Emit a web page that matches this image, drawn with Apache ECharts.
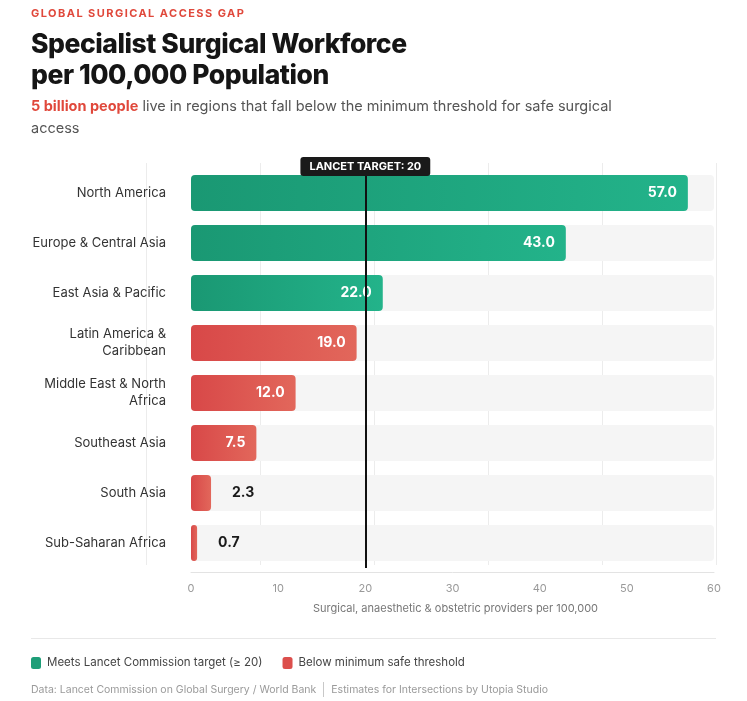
<!DOCTYPE html>
<html>
<head>
<meta charset="utf-8">
<title>Specialist Surgical Workforce</title>
<script src="https://cdn.jsdelivr.net/npm/echarts@6/dist/echarts.min.js"></script>
<style>
  body { margin: 0; background: #fff; font-family: Inter, "Noto Sans", sans-serif; }
  #wrap { position: relative; width: 747px; height: 701px; overflow: hidden; }
  #main { position: absolute; left: 0; top: 0; width: 747px; height: 701px; }
  .kicker { position: absolute; left: 31px; top: 6px; font-size: 11px; font-weight: 700; letter-spacing: 1.45px; color: #e0483b; }
  h1 { position: absolute; left: 31px; top: 28px; margin: 0; font-size: 26.5px; line-height: 31px; font-weight: 800; color: #151515; letter-spacing: -0.45px; }
  .sub { position: absolute; left: 31px; top: 95px; width: 620px; margin: 0; font-size: 14.5px; line-height: 22px; color: #555; }
  .sub b { color: #e0483b; font-weight: 700; }
  .rule { position: absolute; left: 31px; top: 638px; width: 685px; height: 1px; background: #e8e8e8; }
  .foot { position: absolute; left: 31px; top: 682px; font-size: 10.5px; color: #9a9a9a; display: flex; align-items: center; }
  .foot .sep { display: inline-block; width: 1px; height: 15px; background: #c8c8c8; margin: 0 7px; }
</style>
</head>
<body>
<div id="wrap">
  <div id="main"></div>
  <div class="kicker">GLOBAL SURGICAL ACCESS GAP</div>
  <h1>Specialist Surgical Workforce<br>per 100,000 Population</h1>
  <p class="sub"><b>5 billion people</b> live in regions that fall below the minimum threshold for safe surgical access</p>
  <div class="rule"></div>
  <div class="foot"><span>Data: Lancet Commission on Global Surgery / World Bank</span><span class="sep"></span><span>Estimates for Intersections by Utopia Studio</span></div>
</div>

<script type="text/javascript">
    // data
    var regions = ['North America', 'Europe & Central Asia', 'East Asia & Pacific', 'Latin America & Caribbean',
                   'Middle East & North Africa', 'Southeast Asia', 'South Asia', 'Sub-Saharan Africa'];
    var workforce = [57.0, 43.0, 22.0, 19.0, 12.0, 7.5, 2.3, 0.7];
    var lancetTarget = 20;
    var xMin = 0, xMax = 60, xStep = 10;
    var legendNames = ['Meets Lancet Commission target (\u2265 20)', 'Below minimum safe threshold'];

    var green = new echarts.graphic.LinearGradient(0, 0, 1, 0, [
        {offset: 0, color: '#1a9873'}, {offset: 1, color: '#23b38a'}]);
    var red = new echarts.graphic.LinearGradient(0, 0, 1, 0, [
        {offset: 0, color: '#d84848'}, {offset: 1, color: '#e2675b'}]);

    var barData = [];
    for (var i = 0; i < workforce.length; i++) {
        var v = workforce[i];
        barData.push({
            value: v,
            itemStyle: {color: v >= lancetTarget ? green : red},
            label: v >= 5 ?
                {position: 'insideRight', distance: 11, color: '#fff'} :
                {position: 'right', distance: 21, color: '#1a1a1a'}
        });
    }

    // long region names go on two lines, broken at the last space that fits
    function wrapName(s) {
        if (s.length <= 22) return s;
        var cut = s.lastIndexOf(' ', 22);
        return s.slice(0, cut) + '\n' + s.slice(cut + 1);
    }

    var myChart = echarts.init(document.getElementById('main'));
    myChart.setOption({
        animation: false,
        textStyle: {fontFamily: 'Inter, "Noto Sans", sans-serif'},
        grid: [
            {left: 191, right: 33, top: 168, height: 400},
            // grid for the light vertical guide lines
            {left: 146, right: 31, top: 163, height: 402}
        ],
        xAxis: [
            {
                gridIndex: 0, type: 'value', min: xMin, max: xMax, interval: xStep,
                offset: 4,
                axisLine: {show: true, lineStyle: {color: '#e3e3e3'}},
                axisTick: {show: false},
                splitLine: {show: false},
                axisLabel: {color: '#999', fontSize: 11, margin: 11},
                name: 'Surgical, anaesthetic & obstetric providers per 100,000',
                nameLocation: 'middle', nameGap: 31,
                nameTextStyle: {color: '#777', fontSize: 11, padding: [0, 0, 0, 6]}
            },
            {
                gridIndex: 1, type: 'value', min: 0, max: 5, interval: 1,
                axisLine: {show: false}, axisTick: {show: false}, axisLabel: {show: false},
                splitLine: {show: true, lineStyle: {color: '#ececec'}}
            }
        ],
        yAxis: [
            {
                gridIndex: 0, type: 'category', data: regions, inverse: true,
                axisLine: {show: false}, axisTick: {show: false},
                axisLabel: {
                    color: '#333', fontSize: 13, lineHeight: 17, margin: 25,
                    align: 'right', formatter: wrapName
                }
            },
            {gridIndex: 1, type: 'value', min: 0, max: 1, show: false}
        ],
        legend: {
            data: legendNames, left: 26, top: 652,
            icon: 'roundRect', itemWidth: 10, itemHeight: 12, itemGap: 20,
            textStyle: {color: '#444', fontSize: 11.5, padding: [0, 0, 0, 1]},
            selectedMode: false
        },
        series: [
            {
                type: 'bar', xAxisIndex: 0, yAxisIndex: 0,
                data: barData, barWidth: 36,
                showBackground: true,
                backgroundStyle: {color: '#f5f5f5', borderRadius: 4},
                itemStyle: {borderRadius: 4},
                label: {
                    show: true, fontSize: 14, fontWeight: 'bold',
                    formatter: function (p) { return p.value.toFixed(1); }
                },
                markLine: {
                    silent: true, symbol: 'none',
                    lineStyle: {color: '#111', width: 2, type: 'solid'},
                    label: {
                        show: true, position: 'start', distance: -8,
                        formatter: 'LANCET TARGET: ' + lancetTarget,
                        color: '#fff', backgroundColor: '#1a1a1a', borderRadius: 3,
                        padding: [4, 9, 4, 9], fontSize: 11, fontWeight: 'bold'
                    },
                    data: [{xAxis: lancetTarget}]
                }
            },
            {name: legendNames[0], type: 'scatter', xAxisIndex: 1, yAxisIndex: 1, data: [], itemStyle: {color: '#1e9e78', opacity: 1}},
            {name: legendNames[1], type: 'scatter', xAxisIndex: 1, yAxisIndex: 1, data: [], itemStyle: {color: '#dc4f4c', opacity: 1}}
        ]
    });
</script>
</body>
</html>
